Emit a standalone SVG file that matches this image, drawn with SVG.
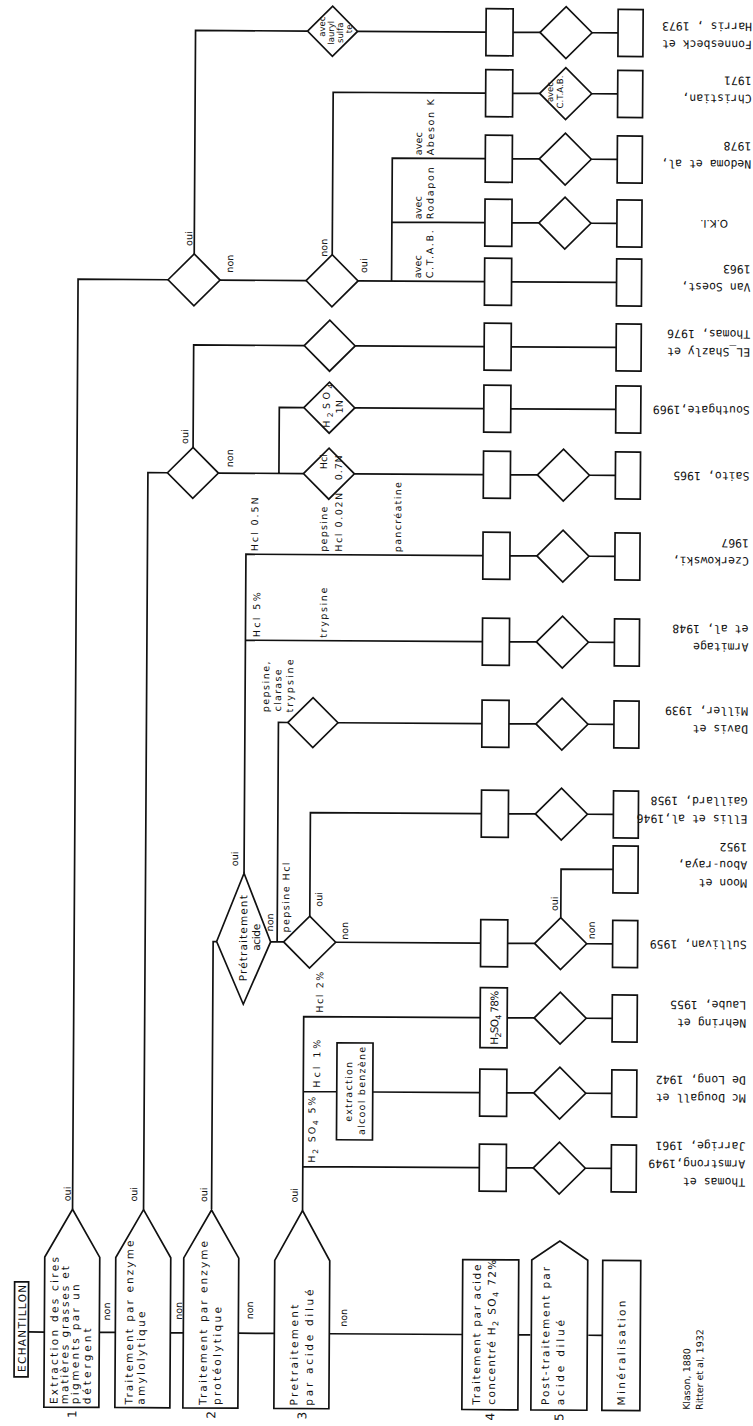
<svg xmlns="http://www.w3.org/2000/svg" width="753" height="1426" viewBox="0 0 753 1426">
<style>
.ln{fill:none;stroke:#111;stroke-width:1.7}
.sh{fill:#fff;stroke:#111;stroke-width:1.7}
.t{font-family:"DejaVu Sans",sans-serif;font-size:10.5px;fill:#111}
.s{font-family:"DejaVu Sans",sans-serif;font-size:9.5px;fill:#111}
.xs{font-family:"DejaVu Sans",sans-serif;font-size:8.5px;fill:#111}
.r{font-family:"DejaVu Sans Mono",monospace;font-size:11.5px;fill:#111}
.n{font-family:"DejaVu Sans",sans-serif;font-size:12px;fill:#111}
.m{text-anchor:middle}
</style>
<rect width="753" height="1426" fill="#fff"/>
<g transform="rotate(0.34 376 713)">
<g id="connectors">
<path class="ln" d="M31.7 1334H48M103 1334H119M174 1334H187M242 1334H278M333 1334H466M522 1334H534M592 1334H606"/>
<path class="ln" d="M75.5 1211V281H165.5M191.5 255V31.5H303.5M353.5 31.5H482M217.5 281H303.5M355.5 281H482M389 281V158H482M389 222H482M329.5 255V92.5H482"/>
<path class="ln" d="M146.5 1211V474H166M191.5 448.5V346H302M353 346H482M217 474H302M353 474H482M277.5 474V408H302M353 408H482"/>
<path class="ln" d="M214.5 1210V942.5H218M245 874V555H482M245 641H482M272 942.5H285M278.5 942.5V723H288M338 723H482M311 916.5V813H482M337 942.5H482"/>
<path class="ln" d="M305.5 1211V1017H482M305.5 1092H339M375 1092H482M305.5 1167H482"/>
<path class="ln" d="M509 31.5H536M588 31.5H614M509 92.5H536M588 92.5H614M509 158H536M588 158H614M509 222H536M588 222H614M509 281H614M509 346H614M509 408H614M509 474H536M588 474H614M509 555H536M588 555H614M509 641H536M588 641H614M509 723H536M588 723H614M509 813H536M588 813H614M509 942.5H536M588 942.5H614M562 916.5V868H614M509 1017H536M588 1017H614M509 1092H536M588 1092H614M509 1167H536M588 1167H614"/>
</g>
<g id="labels">
<text class="s" transform="translate(73.5 1203) rotate(-90)">oui</text>
<text class="s" transform="translate(140 1203) rotate(-90)">oui</text>
<text class="s" transform="translate(210 1203) rotate(-90)">oui</text>
<text class="s" transform="translate(300.5 1203) rotate(-90)">oui</text>
<text class="s" transform="translate(113.5 1322) rotate(-90)">non</text>
<text class="s" transform="translate(185.5 1321) rotate(-90)">non</text>
<text class="s" transform="translate(256.5 1320) rotate(-90)">non</text>
<text class="s" transform="translate(350.5 1327) rotate(-90)">non</text>
<text class="s" transform="translate(189.5 247) rotate(-90)">oui</text>
<text class="s" transform="translate(230.5 273.5) rotate(-90)">non</text>
<text class="s" transform="translate(324.5 257) rotate(-90)">non</text>
<text class="s" transform="translate(364.5 273) rotate(-90)">oui</text>
<text class="s" transform="translate(418.5 278) rotate(-90)" textLength="23" lengthAdjust="spacing">avec</text>
<text class="s" transform="translate(430.5 278) rotate(-90)" textLength="48" lengthAdjust="spacing">C.T.A.B.</text>
<text class="s" transform="translate(418.5 219) rotate(-90)" textLength="23" lengthAdjust="spacing">avec</text>
<text class="s" transform="translate(430.5 219) rotate(-90)" textLength="52" lengthAdjust="spacing">Rodapon</text>
<text class="s" transform="translate(418.5 155) rotate(-90)" textLength="23" lengthAdjust="spacing">avec</text>
<text class="s" transform="translate(430.5 155) rotate(-90)" textLength="56" lengthAdjust="spacing">Abeson K</text>
<text class="s" transform="translate(186.5 445) rotate(-90)">oui</text>
<text class="s" transform="translate(231.5 468) rotate(-90)">non</text>
<text class="s" transform="translate(257 552) rotate(-90)" textLength="54" lengthAdjust="spacing">Hcl 0.5N</text>
<text class="s" transform="translate(326 552) rotate(-90)" textLength="45" lengthAdjust="spacing">pepsine</text>
<text class="s" transform="translate(341 552) rotate(-90)" textLength="59" lengthAdjust="spacing">Hcl 0.02N</text>
<text class="s" transform="translate(400 552) rotate(-90)" textLength="70" lengthAdjust="spacing">pancréatine</text>
<text class="s" transform="translate(259.5 638) rotate(-90)" textLength="45" lengthAdjust="spacing">Hcl 5%</text>
<text class="s" transform="translate(326.3 638) rotate(-90)" textLength="50" lengthAdjust="spacing">trypsine</text>
<text class="s" transform="translate(269 713) rotate(-90)" textLength="51" lengthAdjust="spacing">pepsine,</text>
<text class="s" transform="translate(281 712) rotate(-90)" textLength="42" lengthAdjust="spacing">clarase</text>
<text class="s" transform="translate(293 713) rotate(-90)" textLength="53" lengthAdjust="spacing">trypsine</text>
<text class="s" transform="translate(239 867) rotate(-90)">oui</text>
<text class="s" transform="translate(274.4 932) rotate(-90)">non</text>
<text class="s" transform="translate(290.4 933) rotate(-90)" textLength="70" lengthAdjust="spacing">pepsine Hcl</text>
<text class="s" transform="translate(323.4 907) rotate(-90)">oui</text>
<text class="s" transform="translate(349.4 940) rotate(-90)">non</text>
<text class="s" transform="translate(324.8 1013) rotate(-90)" textLength="41" lengthAdjust="spacing">Hcl 2%</text>
<text class="s" transform="translate(322.2 1088) rotate(-90)" textLength="48" lengthAdjust="spacing">Hcl 1%</text>
<text class="s" transform="translate(317.7 1163) rotate(-90)" textLength="66" lengthAdjust="spacing">H<tspan dy="3" font-size="7.5">2</tspan><tspan dy="-3"> SO</tspan><tspan dy="3" font-size="7.5">4</tspan><tspan dy="-3"> 5%</tspan></text>
<text class="s" transform="translate(559 910) rotate(-90)">oui</text>
<text class="s" transform="translate(596 938) rotate(-90)">non</text>
<text class="n m" transform="translate(80.4 1416) rotate(-90)">1</text>
<text class="n m" transform="translate(219.4 1416) rotate(-90)">2</text>
<text class="n m" transform="translate(310.4 1416) rotate(-90)">3</text>
<text class="n m" transform="translate(498.4 1416) rotate(-90)">4</text>
<text class="n m" transform="translate(567.4 1416) rotate(-90)">5</text>
</g>
<g id="echantillon"><rect class="sh" x="18" y="1284" width="14" height="95"/><text class="t" font-size="12" transform="translate(29.5 1374) rotate(-90)" textLength="87" lengthAdjust="spacing">ECHANTILLON</text></g>
<g id="box1"><path class="sh" d="M48 1409V1259L75.5 1211L103 1259V1409Z"/>
<text class="t" transform="translate(61.7 1406) rotate(-90)" textLength="147" lengthAdjust="spacing">Extraction des cires</text>
<text class="t" transform="translate(72.2 1406) rotate(-90)" textLength="138" lengthAdjust="spacing">matières grasses et</text>
<text class="t" transform="translate(82.7 1406) rotate(-90)" textLength="120" lengthAdjust="spacing">pigments par un</text>
<text class="t" transform="translate(94.7 1406) rotate(-90)" textLength="76" lengthAdjust="spacing">détergent</text></g>
<g id="box2"><path class="sh" d="M119 1409V1259L146.5 1211L174 1259V1409Z"/>
<text class="t" transform="translate(136.7 1406) rotate(-90)" textLength="164" lengthAdjust="spacing">Traitement par enzyme</text>
<text class="t" transform="translate(148.7 1406) rotate(-90)" textLength="93" lengthAdjust="spacing">amylolytique</text></g>
<g id="box3"><path class="sh" d="M187 1409V1259L214.5 1211L242 1259V1409Z"/>
<text class="t" transform="translate(210.7 1406) rotate(-90)" textLength="164" lengthAdjust="spacing">Traitement par enzyme</text>
<text class="t" transform="translate(224.7 1406) rotate(-90)" textLength="98" lengthAdjust="spacing">protéolytique</text></g>
<g id="box4"><path class="sh" d="M278 1409V1261L305.5 1211L333 1261V1409Z"/>
<text class="t" transform="translate(301.7 1406) rotate(-90)" textLength="101" lengthAdjust="spacing">Pretraitement</text>
<text class="t" transform="translate(316.7 1406) rotate(-90)" textLength="116" lengthAdjust="spacing">par acide dilué</text></g>
<g id="box5"><rect class="sh" x="466" y="1259" width="56" height="150"/>
<text class="t" transform="translate(484 1404) rotate(-90)" textLength="140" lengthAdjust="spacing">Traitement par acide</text>
<text class="t" transform="translate(499 1404) rotate(-90)" textLength="145" lengthAdjust="spacing">concentré H<tspan dy="3" font-size="8">2</tspan><tspan dy="-3"> SO</tspan><tspan dy="3" font-size="8">4</tspan><tspan dy="-3"> 72%</tspan></text></g>
<g id="box6"><path class="sh" d="M535 1409V1259L563 1240L591 1259V1409Z"/>
<text class="t" transform="translate(553 1404) rotate(-90)" textLength="138" lengthAdjust="spacing">Post-traitement par</text>
<text class="t" transform="translate(568 1404) rotate(-90)" textLength="85" lengthAdjust="spacing">acide dilué</text></g>
<g id="box7"><rect class="sh" x="606" y="1259" width="38" height="150"/>
<text class="t" transform="translate(629 1404) rotate(-90)" textLength="105" lengthAdjust="spacing">Minéralisation</text></g>
<g id="klason"><text class="s" transform="translate(694 1408) rotate(-90)">Klason, 1880</text><text class="s" transform="translate(707 1408) rotate(-90)">Ritter et al, 1932</text></g>
<g id="d1"><path class="sh" d="M165.5 281L191.5 255L217.5 281L191.5 307Z"/></g>
<g id="d-lauryl"><path class="sh" d="M303.5 31.5L328.5 6.5L353.5 31.5L328.5 56.5Z"/>
<text class="xs m" transform="translate(321 27) rotate(-90)">avec</text>
<text class="xs m" transform="translate(330 33) rotate(-90)">lauryl</text>
<text class="xs m" transform="translate(339 33) rotate(-90)">sulfa</text>
<text class="xs m" transform="translate(348 29) rotate(-90)">te</text></g>
<g id="d2"><path class="sh" d="M303.5 281L329.5 255L355.5 281L329.5 307Z"/></g>
<g id="d3"><path class="sh" d="M302 346L327.5 320.5L353 346L327.5 371.5Z"/></g>
<g id="d4"><path class="sh" d="M166 474L191.5 448.5L217 474L191.5 499.5Z"/></g>
<g id="d5"><path class="sh" d="M302 474L327.5 448.5L353 474L327.5 499.5Z"/>
<text class="s m" transform="translate(325.6 462) rotate(-90)">Hcl</text>
<text class="s m" transform="translate(340.6 468) rotate(-90)" textLength="25" lengthAdjust="spacing">0.7N</text></g>
<g id="d6"><path class="sh" d="M302 408L327.5 382.5L353 408L327.5 433.5Z"/>
<text class="s m" transform="translate(328 406) rotate(-90)" textLength="44" lengthAdjust="spacing">H<tspan dy="3" font-size="7.5">2</tspan><tspan dy="-3">SO</tspan><tspan dy="3" font-size="7.5">4</tspan></text>
<text class="s m" transform="translate(341 407) rotate(-90)">1N</text></g>
<g id="d-pretraitement"><path class="sh" d="M218 942.5L245 874L272 942.5L245 1005Z"/>
<text class="t m" transform="translate(248.4 939) rotate(-90)" textLength="86" lengthAdjust="spacing">Prétraitement</text>
<text class="t m" transform="translate(261.4 938) rotate(-90)" textLength="27" lengthAdjust="spacing">acide</text></g>
<g id="d7"><path class="sh" d="M288 723L313 698L338 723L313 748Z"/></g>
<g id="d8"><path class="sh" d="M285 942.5L311 916.5L337 942.5L311 968.5Z"/></g>
<g id="extraction"><rect class="sh" x="339" y="1043" width="36" height="97"/>
<text class="s m" transform="translate(354.3 1092) rotate(-90)" textLength="60" lengthAdjust="spacing">extraction</text>
<text class="s m" transform="translate(367.3 1091) rotate(-90)" textLength="88" lengthAdjust="spacing">alcool benzène</text></g>
<g id="r1a"><rect class="sh" x="482" y="8" width="27" height="47"/></g>
<g id="r1d"><path class="sh" d="M536 31.5L562 5.5L588 31.5L562 57.5Z"/></g>
<g id="r1b"><rect class="sh" x="614" y="8" width="25" height="47"/><text class="r" transform="translate(748 38.5) rotate(180)">Fonnesbeck et<tspan x="0" dy="18">Harris , 1973</tspan></text></g>
<g id="r2a"><rect class="sh" x="482" y="69" width="27" height="47"/></g>
<g id="r2d"><path class="sh" d="M536 92.5L562 66.5L588 92.5L562 118.5Z"/><text class="xs m" transform="translate(549.3 91) rotate(-90)">avec</text><text class="xs m" transform="translate(559.3 91) rotate(-90)" textLength="33" lengthAdjust="spacing">C.T.A.B.</text></g>
<g id="r2b"><rect class="sh" x="614" y="69" width="25" height="47"/><text class="r" transform="translate(748 92.5) rotate(180)">Christian,<tspan x="0" dy="18">1971</tspan></text></g>
<g id="r3a"><rect class="sh" x="482" y="134.5" width="27" height="47"/></g>
<g id="r3d"><path class="sh" d="M536 158L562 132L588 158L562 184Z"/></g>
<g id="r3b"><rect class="sh" x="614" y="134.5" width="25" height="47"/><text class="r" transform="translate(748 158) rotate(180)">Nedoma et al,<tspan x="0" dy="18">1978</tspan></text></g>
<g id="r4a"><rect class="sh" x="482" y="198.5" width="27" height="47"/></g>
<g id="r4d"><path class="sh" d="M536 222L562 196L588 222L562 248Z"/></g>
<g id="r4b"><rect class="sh" x="614" y="198.5" width="25" height="47"/><text class="t" font-size="11.5" transform="translate(725 218) rotate(180)">O.K.I.</text></g>
<g id="r5a"><rect class="sh" x="482" y="257.5" width="27" height="47"/></g>
<g id="r5b"><rect class="sh" x="614" y="257.5" width="25" height="47"/><text class="r" transform="translate(748 281) rotate(180)">Van Soest,<tspan x="0" dy="18">1963</tspan></text></g>
<g id="r6a"><rect class="sh" x="482" y="322.5" width="27" height="47"/></g>
<g id="r6b"><rect class="sh" x="614" y="322.5" width="25" height="47"/><text class="r" transform="translate(748 346) rotate(180)">EL_Shazly et<tspan x="0" dy="18">Thomas, 1976</tspan></text></g>
<g id="r7a"><rect class="sh" x="482" y="384.5" width="27" height="47"/></g>
<g id="r7b"><rect class="sh" x="614" y="384.5" width="25" height="47"/><text class="r" transform="translate(748 404) rotate(180)">Southgate,1969</text></g>
<g id="r8a"><rect class="sh" x="482" y="450.5" width="27" height="47"/></g>
<g id="r8d"><path class="sh" d="M536 474L562 448L588 474L562 500Z"/></g>
<g id="r8b"><rect class="sh" x="614" y="450.5" width="25" height="47"/><text class="r" transform="translate(748 470) rotate(180)">Saito, 1965</text></g>
<g id="r9a"><rect class="sh" x="482" y="531.5" width="27" height="47"/></g>
<g id="r9d"><path class="sh" d="M536 555L562 529L588 555L562 581Z"/></g>
<g id="r9b"><rect class="sh" x="614" y="531.5" width="25" height="47"/><text class="r" transform="translate(748 555) rotate(180)">Czerkowski,<tspan x="0" dy="18">1967</tspan></text></g>
<g id="r10a"><rect class="sh" x="482" y="617.5" width="27" height="47"/></g>
<g id="r10d"><path class="sh" d="M536 641L562 615L588 641L562 667Z"/></g>
<g id="r10b"><rect class="sh" x="614" y="617.5" width="25" height="47"/><text class="r" transform="translate(748 641) rotate(180)">Armitage<tspan x="0" dy="18">et al, 1948</tspan></text></g>
<g id="r11a"><rect class="sh" x="482" y="699.5" width="27" height="47"/></g>
<g id="r11d"><path class="sh" d="M536 723L562 697L588 723L562 749Z"/></g>
<g id="r11b"><rect class="sh" x="614" y="699.5" width="25" height="47"/><text class="r" transform="translate(748 723) rotate(180)">Davis et<tspan x="0" dy="18">Miller, 1939</tspan></text></g>
<g id="r12a"><rect class="sh" x="482" y="789.5" width="27" height="47"/></g>
<g id="r12d"><path class="sh" d="M536 813L562 787L588 813L562 839Z"/></g>
<g id="r12b"><rect class="sh" x="614" y="789.5" width="25" height="47"/><text class="r" transform="translate(748 813) rotate(180)">Ellis et al,1946<tspan x="0" dy="18">Gaillard, 1958</tspan></text></g>
<g id="r13b"><rect class="sh" x="614" y="844.5" width="25" height="47"/><text class="r" transform="translate(748 877) rotate(180)">Moon et<tspan x="0" dy="18">Abou-raya,</tspan><tspan x="0" dy="18">1952</tspan></text></g>
<g id="r14a"><rect class="sh" x="482" y="919" width="27" height="47"/></g>
<g id="r14d"><path class="sh" d="M536 942.5L562 916.5L588 942.5L562 968.5Z"/></g>
<g id="r14b"><rect class="sh" x="614" y="919" width="25" height="47"/><text class="r" transform="translate(748 938.5) rotate(180)">Sullivan, 1959</text></g>
<g id="r15a"><rect class="sh" x="482" y="987" width="27" height="60"/><text class="t m" transform="translate(500 1017) rotate(-90)" textLength="54" lengthAdjust="spacing">H<tspan dy="3" font-size="8">2</tspan><tspan dy="-3">SO</tspan><tspan dy="3" font-size="8">4</tspan><tspan dy="-3"> 78%</tspan></text></g>
<g id="r15d"><path class="sh" d="M536 1017L562 991L588 1017L562 1043Z"/></g>
<g id="r15b"><rect class="sh" x="614" y="993.5" width="25" height="47"/><text class="r" transform="translate(748 1017) rotate(180)">Nehring et<tspan x="0" dy="18">Laube, 1955</tspan></text></g>
<g id="r16a"><rect class="sh" x="482" y="1068.5" width="27" height="47"/></g>
<g id="r16d"><path class="sh" d="M536 1092L562 1066L588 1092L562 1118Z"/></g>
<g id="r16b"><rect class="sh" x="614" y="1068.5" width="25" height="47"/><text class="r" transform="translate(748 1092) rotate(180)">Mc Dougall et<tspan x="0" dy="18">De Long, 1942</tspan></text></g>
<g id="r17a"><rect class="sh" x="482" y="1143.5" width="27" height="47"/></g>
<g id="r17d"><path class="sh" d="M536 1167L562 1141L588 1167L562 1193Z"/></g>
<g id="r17b"><rect class="sh" x="614" y="1143.5" width="25" height="47"/><text class="r" transform="translate(748 1176) rotate(180)">Thomas et<tspan x="0" dy="18">Armstrong,1949</tspan><tspan x="0" dy="18">Jarrige, 1961</tspan></text></g>
</g>
</svg>
